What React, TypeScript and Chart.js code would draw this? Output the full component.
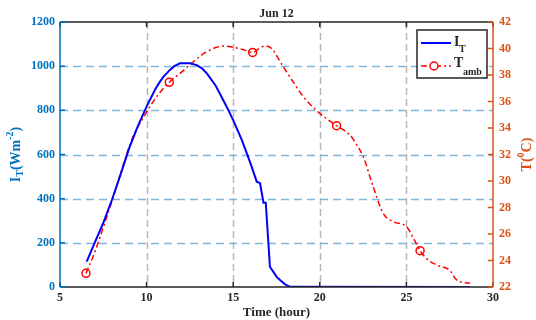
import { useEffect, useRef } from "react";
import { Chart, registerables } from "chart.js";

Chart.register(...registerables);

// Solar irradiance on the tilted plane, W/m²
const irrTime = [6.54, 7, 7.5, 8, 8.5, 9, 9.5, 10, 10.5, 10.77, 11, 11.35, 11.6, 11.93, 12.5, 12.9, 13.2, 13.5, 14, 14.6, 15, 15.5, 16, 16.36, 16.55, 16.75, 16.88, 17.12, 17.5, 17.7, 18.0, 18.28, 28.67];
const irrValue = [115, 200, 290, 395, 510, 630, 730, 817, 895, 930, 955, 983, 1000, 1013, 1013, 1005, 990, 965, 910, 820, 756, 665, 560, 477, 470, 382, 382, 92, 47, 32, 12, 1, 0];

// Ambient temperature, °C
const ambTime = [6.5, 7, 7.5, 8.08, 8.6, 9.14, 10, 10.6, 11.31, 12, 12.7, 13.4, 14.05, 14.43, 15, 15.6, 16.12, 16.5, 16.84, 17.22, 17.9, 18.5, 19.05, 20, 20.97, 21.74, 22.1, 22.51, 23.08, 23.66, 24.24, 25.01, 25.4, 25.79, 26.2, 26.75, 27.52, 27.9, 28.67];
const ambValue = [23.03, 24.6, 26.5, 28.8, 31.0, 33.1, 35.2, 36.4, 37.45, 38.2, 39.0, 39.7, 40.09, 40.19, 40.09, 39.9, 39.7, 40.0, 40.19, 40.0, 38.6, 37.4, 36.36, 35.1, 34.17, 33.47, 32.8, 31.83, 29.57, 27.56, 26.93, 26.55, 25.7, 24.74, 24.1, 23.66, 23.23, 22.53, 22.28];
const ambMarkerTime = [6.5, 11.31, 16.12, 20.97, 25.79];

const xTicks = [5, 10, 15, 20, 25, 30];
const leftTicks = [0, 200, 400, 600, 800, 1000, 1200];
const rightTicks = [22, 24, 26, 28, 30, 32, 34, 36, 38, 40, 42];

const FONT = "'Liberation Serif', 'Times New Roman', serif";
const BLUE_AXIS = "#0072BD";
const ORANGE_AXIS = "#D95319";
const DARK = "#262626";

function drawRich(
  ctx: CanvasRenderingContext2D,
  parts: { t: string; size: number; dy: number }[],
  cx: number,
  cy: number,
  rotate: boolean,
  color: string
) {
  ctx.save();
  ctx.translate(cx, cy);
  if (rotate) ctx.rotate(-Math.PI / 2);
  ctx.fillStyle = color;
  ctx.textBaseline = "middle";
  ctx.textAlign = "left";
  let total = 0;
  for (const p of parts) {
    ctx.font = `bold ${p.size}px ${FONT}`;
    total += ctx.measureText(p.t).width;
  }
  let x = -total / 2;
  for (const p of parts) {
    ctx.font = `bold ${p.size}px ${FONT}`;
    ctx.fillText(p.t, x, p.dy);
    x += ctx.measureText(p.t).width;
  }
  ctx.restore();
}

const framePlugin = {
  id: "frame",
  beforeDatasetsDraw(chart: any) {
    const { ctx, chartArea: a, scales } = chart;
    ctx.save();
    ctx.lineWidth = 1.5;
    // vertical grid
    ctx.strokeStyle = "#b8b8b8";
    ctx.setLineDash([7, 4]);
    for (const v of xTicks.slice(1, -1)) {
      const x = Math.round(scales.x.getPixelForValue(v)) + 0.5;
      ctx.beginPath();
      ctx.moveTo(x, a.top);
      ctx.lineTo(x, a.bottom);
      ctx.stroke();
    }
    // horizontal grid
    ctx.strokeStyle = "#7fb6de";
    ctx.setLineDash([8, 5]);
    for (const v of leftTicks.slice(1, -1)) {
      const y = Math.round(scales.y.getPixelForValue(v)) + 0.5;
      ctx.beginPath();
      ctx.moveTo(a.left, y);
      ctx.lineTo(a.right, y);
      ctx.stroke();
    }
    ctx.restore();
  },
  afterDatasetsDraw(chart: any) {
    const { ctx, chartArea: a, scales } = chart;
    ctx.save();
    ctx.setLineDash([]);
    ctx.lineWidth = 1.5;
    const tl = 5;
    // top and bottom borders with inward ticks
    ctx.strokeStyle = DARK;
    ctx.beginPath();
    ctx.moveTo(a.left, a.top);
    ctx.lineTo(a.right, a.top);
    ctx.moveTo(a.left, a.bottom);
    ctx.lineTo(a.right, a.bottom);
    for (const v of xTicks) {
      const x = scales.x.getPixelForValue(v);
      ctx.moveTo(x, a.bottom);
      ctx.lineTo(x, a.bottom - tl);
      ctx.moveTo(x, a.top);
      ctx.lineTo(x, a.top + tl);
    }
    ctx.stroke();
    // left axis
    ctx.strokeStyle = BLUE_AXIS;
    ctx.beginPath();
    ctx.moveTo(a.left, a.top);
    ctx.lineTo(a.left, a.bottom);
    for (const v of leftTicks) {
      const y = scales.y.getPixelForValue(v);
      ctx.moveTo(a.left, y);
      ctx.lineTo(a.left + tl, y);
    }
    ctx.stroke();
    // right axis
    ctx.strokeStyle = ORANGE_AXIS;
    ctx.beginPath();
    ctx.moveTo(a.right, a.top);
    ctx.lineTo(a.right, a.bottom);
    for (const v of rightTicks) {
      const y = scales.y2.getPixelForValue(v);
      ctx.moveTo(a.right, y);
      ctx.lineTo(a.right - tl, y);
    }
    ctx.stroke();
    ctx.restore();
  },
  afterDraw(chart: any) {
    const { ctx, chartArea: a } = chart;
    const midX = (a.left + a.right) / 2;
    // title
    drawRich(ctx, [{ t: "Jun 12", size: 12, dy: 0 }], midX, 14, false, DARK);
    // x axis title
    drawRich(ctx, [{ t: "Time (hour)", size: 13, dy: 0 }], midX, 313, false, DARK);
    // left axis title
    drawRich(
      ctx,
      [
        { t: "I", size: 14, dy: 0 },
        { t: "T", size: 10, dy: 4 },
        { t: "(Wm", size: 14, dy: 0 },
        { t: "-2", size: 10, dy: -6 },
        { t: ")", size: 14, dy: 0 },
      ],
      16,
      (a.top + a.bottom) / 2,
      true,
      BLUE_AXIS
    );
    // right axis title
    drawRich(
      ctx,
      [
        { t: "T(", size: 14, dy: 0 },
        { t: "0", size: 10, dy: -6 },
        { t: "C)", size: 14, dy: 0 },
      ],
      527,
      (a.top + a.bottom) / 2,
      true,
      ORANGE_AXIS
    );
    // legend
    ctx.save();
    const bx = 417, by = 30, bw = 70, bh = 48;
    ctx.fillStyle = "#ffffff";
    ctx.fillRect(bx, by, bw, bh);
    ctx.strokeStyle = DARK;
    ctx.lineWidth = 1.5;
    ctx.strokeRect(bx, by, bw, bh);
    ctx.lineWidth = 2;
    ctx.strokeStyle = "#0000ff";
    ctx.beginPath();
    ctx.moveTo(421, 43);
    ctx.lineTo(451, 43);
    ctx.stroke();
    ctx.strokeStyle = "#ff0000";
    ctx.lineWidth = 1.5;
    ctx.setLineDash([6, 3, 2, 3]);
    ctx.beginPath();
    ctx.moveTo(421, 66);
    ctx.lineTo(451, 66);
    ctx.stroke();
    ctx.setLineDash([]);
    ctx.fillStyle = "#ffffff";
    ctx.beginPath();
    ctx.arc(434, 66, 4, 0, Math.PI * 2);
    ctx.fill();
    ctx.stroke();
    ctx.restore();
    ctx.save();
    ctx.fillStyle = DARK;
    ctx.textAlign = "left";
    ctx.textBaseline = "alphabetic";
    ctx.font = `bold 14px ${FONT}`;
    ctx.fillText("I", 454, 46);
    ctx.fillText("T", 454, 67);
    ctx.font = `bold 10px ${FONT}`;
    ctx.fillText("T", 459, 52);
    ctx.fillText("amb", 463, 75);
    ctx.restore();
  },
};

export default function App() {
  const canvasRef = useRef<HTMLCanvasElement | null>(null);

  useEffect(() => {
    document.body.style.margin = "0";
    const canvas = canvasRef.current;
    if (!canvas) return;
    const tickFont = { family: FONT, size: 12, weight: "bold" as const };
    const plain = (v: any) => String(v);
    const chart = new Chart(canvas, {
      type: "line",
      data: {
        datasets: [
          {
            label: "I_T",
            data: irrTime.map((x, i) => ({ x, y: irrValue[i] })),
            borderColor: "#0000ff",
            borderWidth: 2,
            pointRadius: 0,
            tension: 0,
            yAxisID: "y",
          },
          {
            label: "T_amb",
            data: ambTime.map((x, i) => ({ x, y: ambValue[i] })),
            borderColor: "#ff0000",
            borderWidth: 1.5,
            borderDash: [6, 3, 2, 3],
            cubicInterpolationMode: "monotone",
            pointRadius: (c: any) => (ambMarkerTime.includes(ambTime[c.dataIndex]) ? 4 : 0),
            pointBorderColor: "#ff0000",
            pointBackgroundColor: "rgba(255,255,255,0)",
            pointBorderWidth: 1.5,
            yAxisID: "y2",
          },
        ],
      },
      options: {
        responsive: false,
        animation: false,
        layout: { padding: { top: 22 } },
        plugins: {
          legend: { display: false },
          tooltip: { enabled: false },
          title: { display: false },
        },
        scales: {
          x: {
            type: "linear",
            min: 5,
            max: 30,
            afterFit: (s: any) => {
              s.height = 33;
            },
            ticks: { stepSize: 5, color: DARK, font: tickFont, padding: 4, callback: plain },
            grid: { display: false, drawTicks: false },
            border: { display: false },
          },
          y: {
            position: "left",
            min: 0,
            max: 1200,
            afterFit: (s: any) => {
              s.width = 60;
            },
            ticks: { stepSize: 200, color: BLUE_AXIS, font: tickFont, padding: 5, callback: plain },
            grid: { display: false, drawTicks: false },
            border: { display: false },
          },
          y2: {
            position: "right",
            min: 22,
            max: 42,
            afterFit: (s: any) => {
              s.width = 43;
            },
            ticks: { stepSize: 2, color: ORANGE_AXIS, font: tickFont, padding: 6, callback: plain },
            grid: { display: false, drawTicks: false },
            border: { display: false },
          },
        },
      },
      plugins: [framePlugin],
    } as any);
    return () => chart.destroy();
  }, []);

  return (
    <div style={{ width: 536, height: 320, background: "#ffffff" }}>
      <canvas ref={canvasRef} width={536} height={320} />
    </div>
  );
}
